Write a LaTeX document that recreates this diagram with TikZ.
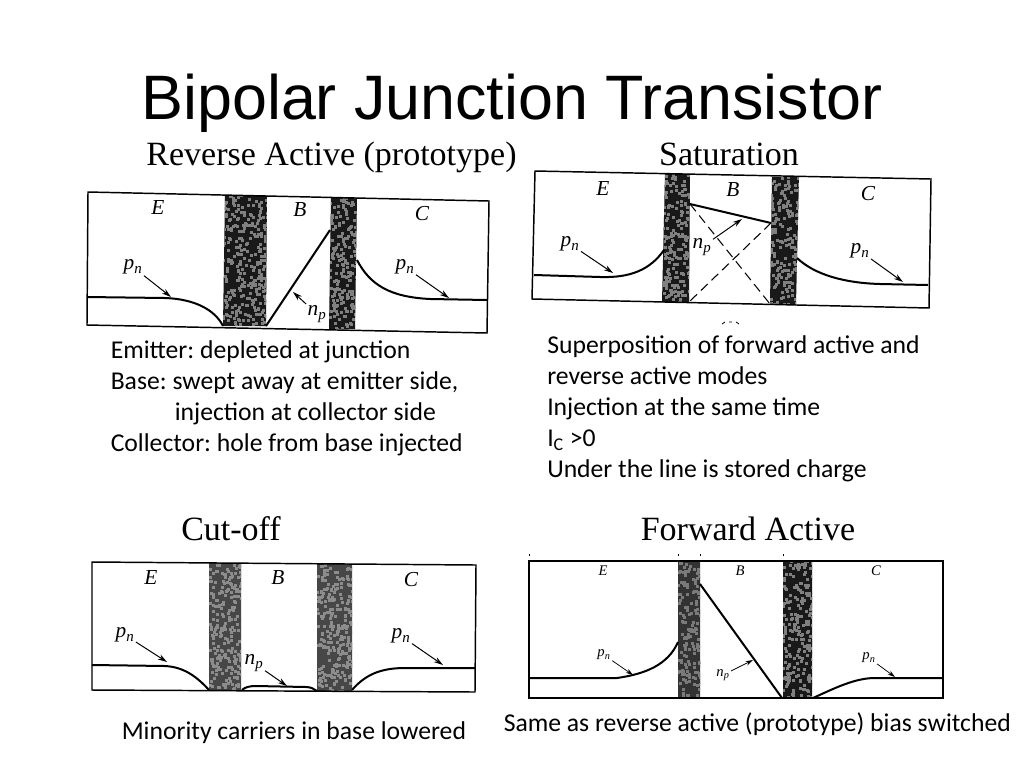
\documentclass[tikz,border=0pt]{standalone}
\usepackage{fontspec}
\setmainfont{Liberation Serif}
\newfontfamily\titlefont{Liberation Sans}
\newfontfamily\bodyfont{Carlito}
\usetikzlibrary{arrows.meta}
\newcommand{\sym}[2]{\textit{#1}\textsubscript{\textit{#2}}}
\newcommand{\junc}[7]{% x1top x2top ytop x2bot x1bot ybot ytop2
  \begin{scope}
    \clip (#1,#3) -- (#2,#7) -- (#4,#6) -- (#5,#6) -- cycle;
    \fill[juncdark] (#5-2,#3-2) rectangle (#2+3,#6+3);
    \pgfmathsetmacro{\jw}{#2-#5+3}
    \pgfmathsetmacro{\jh}{#6-#3+3}
    \pgfmathtruncatemacro{\jn}{\jw*\jh/19}
    \foreach \i in {1,...,\jn}{
      \pgfmathsetmacro{\jx}{#5-1+rnd*\jw}
      \pgfmathsetmacro{\jy}{#3-1+rnd*\jh}
      \fill[junclight] (\jx,\jy) rectangle ++(3,3);
    }
  \end{scope}
}
\tikzset{
  frameline/.style={draw=black,line width=1.1pt},
  curveline/.style={draw=black,line width=1.5pt},
  dashline/.style={draw=black,line width=0.8pt,dash pattern=on 7pt off 4pt},
  arr/.style={draw=black,line width=0.75pt,-{Stealth[length=7pt,width=4.2pt]}},
  arrs/.style={draw=black,line width=0.55pt,-{Stealth[length=5.5pt,width=3.4pt]}},
  lab/.style={inner sep=1pt,font=\fontsize{16pt}{18pt}\selectfont},
  labs/.style={inner sep=1pt,font=\fontsize{11pt}{12pt}\selectfont},
  head/.style={inner sep=0pt,anchor=base,font=\fontsize{25.5pt}{28pt}\selectfont},
  body/.style={inner sep=0pt,anchor=north west,align=left,font=\bodyfont\frenchspacing\fontsize{19.25pt}{23.25pt}\selectfont},
  juncdark/.style={fill=black!90},
  junclight/.style={fill=black!50}
}
\pgfmathsetseed{4711}
\begin{document}
\begin{tikzpicture}[x=0.75pt,y=-0.75pt]
\useasboundingbox (0,0) rectangle (1024,768);
\fill[white] (0,0) rectangle (1024,768);

\node[inner sep=0pt,anchor=base,font=\titlefont\fontsize{47.1pt}{50pt}\selectfont] (title) at (512,119) {Bipolar Junction Transistor};
\node[head] (h1) at (331.5,165) {Reverse Active (prototype)};
\node[head] (h2) at (729,165) {Saturation};
\node[head] (h3) at (231,540) {Cut-off};
\node[head] (h4) at (748,540) {Forward Active};

% ---- Panel 1: reverse active
\junc{225}{267}{195}{266}{223}{326}{196}
\junc{331}{357}{197}{355}{329}{329}{198}
\draw[frameline] (88,192) -- (489,201) -- (487,333) -- (87,325) -- cycle;
\draw[curveline] (87,297) -- (165,298) .. controls (195,299) and (215,310) .. (223,326);
\draw[curveline] (266,326) -- (330,230);
\draw[curveline] (357,260) .. controls (370,285) and (390,297) .. (430,299) -- (487,300);
\node[lab] (e1) at (158,208) {\textit{E}};
\node[lab] (b1) at (300,210) {\textit{B}};
\node[lab] (c1) at (422,214) {\textit{C}};
\node[lab] (p1a) at (133,267) {\sym{p}{n}};
\node[lab] (p1b) at (405,267) {\sym{p}{n}};
\node[lab] (n1) at (317,314) {\sym{n}{p}};
\coordinate (t1a) at (171,297);
\coordinate (t1b) at (449,298);
\coordinate (t1n) at (293,292);
\draw[arr] (p1a) -- (t1a);
\draw[arr] (p1b) -- (t1b);
\draw[arr] (n1) -- (t1n);

% ---- Panel 2: saturation
\junc{665}{690}{174}{689}{662}{302}{174}
\junc{772}{799}{177}{796}{770}{304}{177}
\draw[frameline] (535,171) -- (931,179) -- (929,308) -- (532,299) -- cycle;
\draw[curveline] (534,275) -- (600,277) .. controls (630,278) and (650,270) .. (664,250);
\draw[curveline] (690,204) -- (771,223);
\draw[dashline] (690,204) -- (770,304);
\draw[dashline] (771,223) -- (689,302);
\draw[curveline] (797,258) .. controls (815,275) and (845,283) .. (880,284) -- (928,285);
\node[lab] (e2) at (603,189) {\textit{E}};
\node[lab] (b2) at (733,190) {\textit{B}};
\node[lab] (c2) at (868,194) {\textit{C}};
\node[lab] (p2a) at (570,244) {\sym{p}{n}};
\node[lab] (p2b) at (860,251) {\sym{p}{n}};
\node[lab] (n2) at (702,247) {\sym{n}{p}};
\coordinate (t2a) at (613,273);
\coordinate (t2b) at (903,282);
\coordinate (t2n) at (742,219);
\draw[arr] (p2a) -- (t2a);
\draw[arr] (p2b) -- (t2b);
\draw[arr] (n2) -- (t2n);
\draw[black,line width=0.6pt] (722,324) -- (725,322) (729,322) -- (732,322) (736,322) -- (739,324);

% ---- Panel 3: cut-off
\tikzset{juncdark/.style={fill=black!72},junclight/.style={fill=black!45}}
\junc{209}{241}{563}{241}{209}{690}{563}
\junc{317}{352}{564}{352}{317}{691}{564}
\tikzset{juncdark/.style={fill=black!90},junclight/.style={fill=black!50}}
\draw[frameline] (92,562) -- (476,565) -- (475,692) -- (92,690) -- cycle;
\draw[curveline] (92,665) -- (165,666) .. controls (185,667) and (198,678) .. (209,690);
\draw[curveline] (242,690) .. controls (245,687) and (250,686) .. (256,686) -- (306,687) .. controls (311,687) and (314,689) .. (317,691);
\draw[curveline] (352,690) .. controls (365,675) and (380,668) .. (405,668) -- (475,668);
\node[lab] (e3) at (151,578) {\textit{E}};
\node[lab] (b3) at (278,578) {\textit{B}};
\node[lab] (c3) at (411,580) {\textit{C}};
\node[lab] (p3a) at (125,635) {\sym{p}{n}};
\node[lab] (p3b) at (401,636) {\sym{p}{n}};
\node[lab] (n3) at (254,663) {\sym{n}{p}};
\coordinate (t3a) at (167,662);
\coordinate (t3b) at (443,665);
\coordinate (t3n) at (287,686);
\draw[arr] (p3a) -- (t3a);
\draw[arr] (p3b) -- (t3b);
\draw[arr] (n3) -- (t3n);

% ---- Panel 4: forward active
\tikzset{juncdark/.style={fill=black!80},junclight/.style={fill=black!52}}
\junc{678}{700}{561}{700}{678}{698}{561}
\tikzset{juncdark/.style={fill=black!90},junclight/.style={fill=black!50}}
\junc{783}{812}{561}{812}{783}{698}{561}
\draw[frameline] (529,561) -- (943,561) -- (943,698) -- (529,698) -- cycle;
\draw[curveline] (529,678) -- (617,678) .. controls (645,674) and (668,665) .. (678,642);
\draw[curveline] (700,584) -- (782,698);
\draw[curveline] (813,698) .. controls (835,688) and (855,678) .. (875,678) -- (943,678);
\node[labs] (e4) at (603,571) {\textit{E}};
\node[labs] (b4) at (740,571) {\textit{B}};
\node[labs] (c4) at (876,571) {\textit{C}};
\node[labs] (p4a) at (604,655) {\sym{p}{n}};
\node[labs] (p4b) at (869,658) {\sym{p}{n}};
\node[labs] (n4) at (723,675) {\sym{n}{p}};
\coordinate (t4a) at (633,675);
\coordinate (t4b) at (895,677);
\coordinate (t4n) at (753,660);
\draw[arrs] (p4a) -- (t4a);
\draw[arrs] (p4b) -- (t4b);
\draw[arrs] (n4) -- (t4n);
\draw[black,line width=0.7pt] (529,554) -- (529,556) (678,554) -- (678,556) (700,554) -- (700,556) (783,554) -- (783,556);

% ---- Texts
\node[body] (t1) at (110.5,340) {Emitter: depleted at junction\\Base: swept away at emitter side,\\\hspace*{48pt}injection at collector side\\Collector: hole from base injected};
\node[body] (t2) at (547,335) {Superposition of forward active and\\reverse active modes\\Injection at the same time\\I\textsubscript{C} >0\\Under the line is stored charge};
\node[body] (t3) at (121.5,721) {Minority carriers in base lowered};
\node[body] (t4) at (503.5,712) {Same as reverse active (prototype) bias switched};
\end{tikzpicture}
\end{document}
